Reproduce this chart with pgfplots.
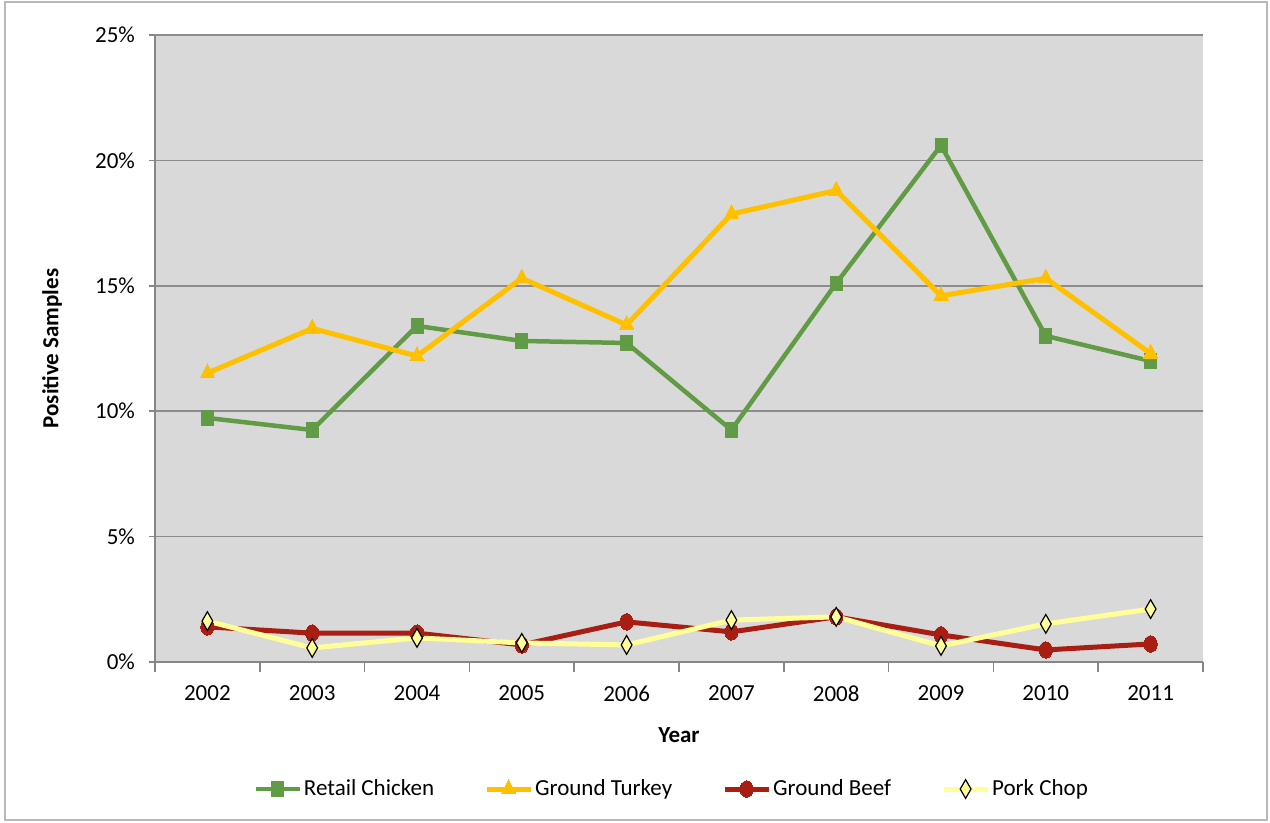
\documentclass[border=0pt]{standalone}
\usepackage{fontspec}
\setmainfont{Carlito}
\usepackage{pgfplots}
\pgfplotsset{compat=1.18}
\definecolor{chick}{HTML}{629B45}
\definecolor{turk}{HTML}{FFC000}
\definecolor{beef}{HTML}{A81E13}
\definecolor{pork}{HTML}{FFFF99}
\definecolor{bg}{HTML}{D9D9D9}
\definecolor{gridc}{HTML}{8C8C8C}
\definecolor{axc}{HTML}{868686}
\begin{document}
\fontsize{11.5}{14}\selectfont
\begin{tikzpicture}
\useasboundingbox (-77.5pt,-80.5pt) rectangle (557.5pt,331pt);
\draw[gray!55, line width=0.7pt] (-75pt,-79pt) rectangle (556pt,330pt);
\begin{axis}[
  at={(0,0)}, anchor=south west,
  scale only axis, width=524pt, height=313.5pt,
  xmin=-0.5, xmax=9.5, ymin=0, ymax=25,
  axis background/.style={fill=bg},
  axis x line*=bottom, axis y line*=left,
  axis line style={axc, line width=0.8pt, -},
  xtick={0,...,9},
  xticklabels={2002,2003,2004,2005,2006,2007,2008,2009,2010,2011},
  major x tick style={draw=none},
  minor xtick={-0.5,0.5,...,9.5},
  minor x tick style={axc, line width=0.8pt},
  minor tick length=5pt,
  major tick length=3pt,
  tick align=outside,
  ytick={0,5,10,15,20,25},
  yticklabel={\pgfmathprintnumber{\tick}\%},
  y tick style={axc, line width=0.8pt},
  /pgf/number format/assume math mode=true,
  ymajorgrids, grid style={gridc, line width=0.75pt},
  tick label style={font=\fontsize{11.5}{14}\selectfont},
  xticklabel style={yshift=-5pt},
  yticklabel style={xshift=-3pt},
  xlabel={Year}, ylabel={Positive Samples},
  xlabel style={font=\fontsize{11.5}{14}\selectfont\bfseries, at={(axis description cs:0.5,-0.1164)}, anchor=center},
  ylabel style={font=\fontsize{11.5}{14}\selectfont\bfseries, at={(axis description cs:-0.0983,0.5)}, anchor=center},
  legend columns=4,
  legend style={draw=none, fill=none, at={(axis description cs:0.493,-0.2026)}, anchor=center,
    font=\fontsize{11.5}{14}\selectfont,
    /tikz/every even column/.append style={column sep=24pt},
    nodes={inner xsep=1pt}},
  legend image code/.code={\draw[mark repeat=2,mark phase=2] plot coordinates {(0pt,0pt) (11pt,0pt) (22pt,0pt)};},
]
\addplot[chick, line width=2.25pt, mark=square*, mark size=3pt, mark options={solid, line width=0pt, yscale=1.2}]
  coordinates {(0,9.73) (1,9.25) (2,13.4) (3,12.8) (4,12.72) (5,9.25) (6,15.1) (7,20.6) (8,13.0) (9,12.0)};
\addlegendentry{Retail Chicken}
\addplot[turk, line width=2.5pt, mark=triangle*, mark size=4.2pt, mark options={solid, line width=0pt, yscale=1.1}]
  coordinates {(0,11.52) (1,13.3) (2,12.2) (3,15.3) (4,13.44) (5,17.86) (6,18.8) (7,14.6) (8,15.3) (9,12.3)};
\addlegendentry{Ground Turkey}
\addplot[beef, line width=2.5pt, mark=*, mark size=3.3pt, mark options={solid, line width=0pt, yscale=1.25}]
  coordinates {(0,1.4) (1,1.15) (2,1.15) (3,0.68) (4,1.6) (5,1.2) (6,1.8) (7,1.08) (8,0.48) (9,0.72)};
\addlegendentry{Ground Beef}
\addplot[pork, line width=2.5pt, mark=diamond*, mark size=3.6pt, mark options={solid, fill=pork, draw=black, line width=0.6pt, yscale=1.3}]
  coordinates {(0,1.63) (1,0.56) (2,0.96) (3,0.76) (4,0.68) (5,1.67) (6,1.8) (7,0.64) (8,1.52) (9,2.11)};
\addlegendentry{Pork Chop}
\end{axis}
\end{tikzpicture}
\end{document}
